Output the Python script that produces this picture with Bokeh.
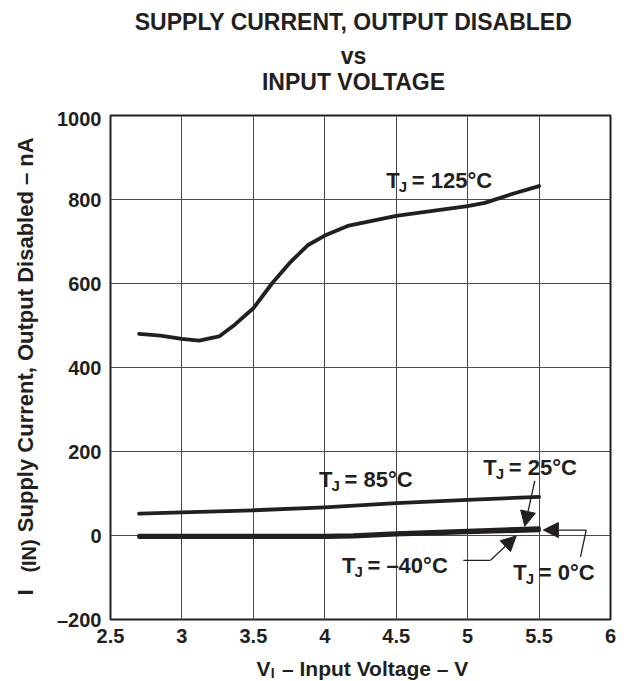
import math
from bokeh.plotting import figure
from bokeh.layouts import column, row
from bokeh.models import Label, Arrow, NormalHead, FixedTicker, Range1d
from bokeh.embed import file_html
from bokeh.resources import INLINE

# ---------------- data ----------------
v_125 = [2.70, 2.85, 3.00, 3.12, 3.26, 3.37, 3.50, 3.63, 3.76, 3.88, 4.00, 4.16, 4.50, 4.78, 5.00, 5.12, 5.31, 5.50]
i_125 = [480, 476, 468, 464, 474, 502, 541, 600, 651, 691, 714, 737, 761, 774, 784, 792, 813, 832]

v_85 = [2.70, 3.00, 3.50, 4.00, 4.50, 5.00, 5.50]
i_85 = [52, 55, 60, 67, 77, 85, 92]

v_low = [2.70, 3.00, 3.50, 4.00, 4.20, 4.50, 5.00, 5.50]
i_m40 = [-4, -4, -4, -4, -3, 2, 7, 12]
i_0 = [-2, -2, -2, -2, -1, 4, 10, 15]
i_25 = [0, 0, 0, 0, 1, 6, 12, 18]

x_ticks = [2.5, 3, 3.5, 4, 4.5, 5, 5.5, 6]
x_tick_labels = ["2.5", "3", "3.5", "4", "4.5", "5", "5.5", "6"]
y_ticks = [-200, 0, 200, 400, 600, 800, 1000]
y_tick_labels = ["\u2013200", "0", "200", "400", "600", "800", "1000"]

title_lines = ["SUPPLY CURRENT, OUTPUT DISABLED", "vs", "INPUT VOLTAGE"]
curve_labels = ["= 125\u00b0C", "= 85\u00b0C", "= 25\u00b0C", "= \u201340\u00b0C", "= 0\u00b0C"]

FONT = "Liberation Sans"
INK = "#231f20"

TOTAL_W, TOP_H, LEFT_W = 640, 107, 50
MAIN_W, MAIN_H = 590, 548
BOTTOM_H = 681 - TOP_H - MAIN_H

base = dict(text_font=FONT, text_font_style="bold", text_color=INK,
            text_baseline="middle", text_align="left")


def text_panel(w, h):
    """A blank figure whose frame fills it; data units equal pixels."""
    f = figure(width=w, height=h, x_range=Range1d(0, w), y_range=Range1d(0, h),
               output_backend="svg", toolbar_location=None, title=None,
               x_axis_location=None, y_axis_location=None, min_border=0)
    f.outline_line_color = None
    f.grid.visible = False
    f.background_fill_color = "white"
    f.border_fill_color = "white"
    return f


# ---------------- main chart ----------------
p = figure(width=MAIN_W, height=MAIN_H, x_range=Range1d(2.5, 6), y_range=Range1d(-200, 1000),
           output_backend="svg", toolbar_location=None, title=None,
           min_border_left=60, min_border_right=30, min_border_top=8, min_border_bottom=36)
p.background_fill_color = "white"
p.border_fill_color = "white"
p.outline_line_color = INK
p.outline_line_width = 2

p.xaxis.ticker = FixedTicker(ticks=x_ticks)
p.yaxis.ticker = FixedTicker(ticks=y_ticks)
p.xaxis.major_label_overrides = {t: s for t, s in zip(x_ticks, x_tick_labels)}
p.yaxis.major_label_overrides = {t: s for t, s in zip(y_ticks, y_tick_labels)}
for ax in (p.xaxis, p.yaxis):
    ax.axis_line_color = None
    ax.major_tick_line_color = None
    ax.minor_tick_line_color = None
    ax.major_tick_out = 0
    ax.major_tick_in = 0
    ax.minor_tick_out = 0
    ax.major_label_text_font = FONT
    ax.major_label_text_font_style = "bold"
    ax.major_label_text_font_size = "20px"
    ax.major_label_text_color = INK
    ax.major_label_standoff = 9

p.xgrid.ticker = FixedTicker(ticks=x_ticks)
p.ygrid.ticker = FixedTicker(ticks=y_ticks)
p.grid.grid_line_color = "#4a4a4a"
p.grid.grid_line_width = 1

lk = dict(color=INK, line_join="round", line_cap="round")
p.line(v_125, i_125, line_width=3.8, **lk)
p.line(v_85, i_85, line_width=3.8, **lk)
p.line(v_low, i_m40, line_width=3.6, **lk)
p.line(v_low, i_0, line_width=3.6, **lk)
p.line(v_low, i_25, line_width=3.6, **lk)


def tj_label(x, y, rest):
    p.add_layout(Label(x=x, y=y, text="T", text_font_size="22px", **base))
    p.add_layout(Label(x=x, y=y, text="J", text_font_size="15px", x_offset=12.5, y_offset=-6, **base))
    p.add_layout(Label(x=x, y=y, text=rest, text_font_size="22px", x_offset=25.5, **base))


label_pos = [(4.43, 846), (3.96, 134), (5.11, 161), (4.12, -71), (5.32, -87)]
for (lx, ly), txt in zip(label_pos, curve_labels):
    tj_label(lx, ly, txt)

thin = dict(line_color=INK, line_width=1.3)


def head():
    return NormalHead(size=15, fill_color=INK, line_color=INK, line_width=1)


p.add_layout(Arrow(end=head(), x_start=5.47, y_start=130, x_end=5.40, y_end=22, **thin))
p.line([4.97, 5.16], [-59, -59], line_width=1.3, color=INK)
p.add_layout(Arrow(end=head(), x_start=5.16, y_start=-59, x_end=5.34, y_end=-1, **thin))
p.line([5.79, 5.83], [-51, 13], line_width=1.3, color=INK)
p.add_layout(Arrow(end=head(), x_start=5.83, y_start=13, x_end=5.53, y_end=13, **thin))

# ---------------- title panel ----------------
top = text_panel(TOTAL_W, TOP_H)
for txt, ty in zip(title_lines, [85.9, 51.5, 25.9]):
    top.add_layout(Label(x=353, y=ty, text=txt, text_font=FONT, text_font_style="bold",
                         text_font_size="23px", text_color=INK, text_align="center",
                         text_baseline="middle"))

# ---------------- y-axis title panel (rotated) ----------------
left = text_panel(LEFT_W, MAIN_H)
rot = math.pi / 2
left.add_layout(Label(x=24.5, y=26, text="I", text_font_size="22px", angle=rot, **base))
left.add_layout(Label(x=28.5, y=51, text="(IN)", text_font_size="20px", angle=rot, **base))
left.add_layout(Label(x=24.5, y=95, text="Supply Current, Output Disabled \u2013 nA",
                      text_font_size="22px", angle=rot, **base))

# ---------------- x-axis title panel ----------------
bottom = text_panel(TOTAL_W, BOTTOM_H)
bx, by = 256, 13.5
bottom.add_layout(Label(x=bx, y=by, text="V", text_font_size="21px", **base))
bottom.add_layout(Label(x=bx, y=by, text="I", text_font_size="14px", x_offset=14.2, y_offset=-5, **base))
bottom.add_layout(Label(x=bx, y=by, text="\u2013 Input Voltage \u2013 V", text_font_size="21px",
                        x_offset=25.5, **base))

layout = column(top, row(left, p), bottom)
open("out.html", "w").write(file_html(layout, INLINE))
